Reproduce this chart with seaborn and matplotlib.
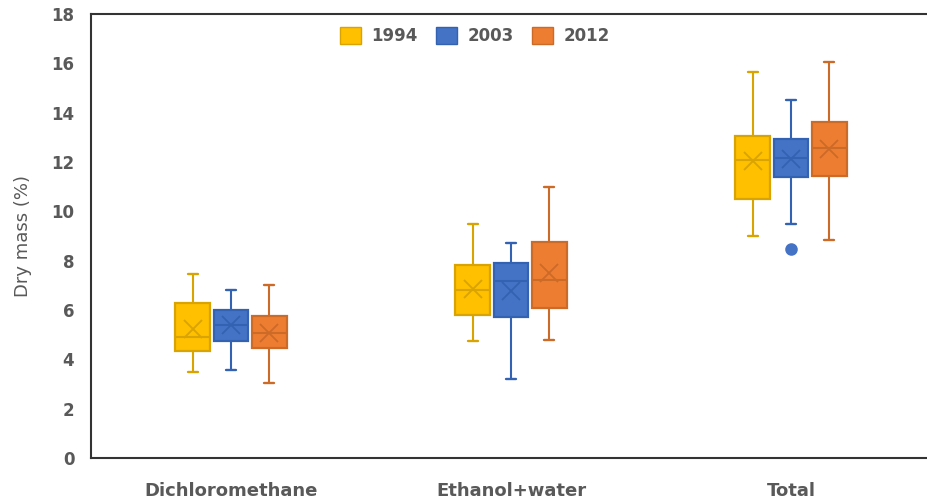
import numpy as np
import pandas as pd
import matplotlib
matplotlib.use("Agg")
import matplotlib.pyplot as plt
from matplotlib.patches import Patch
import seaborn as sns

categories = ["Dichloromethane", "Ethanol+water", "Total"]
years = ["1994", "2003", "2012"]

# Box statistics (per year, one value per category)
whisker_low = {"1994": [3.50, 4.75, 9.00], "2003": [3.55, 3.20, 9.50], "2012": [3.05, 4.80, 8.85]}
quart1 = {"1994": [4.35, 5.80, 10.50], "2003": [4.75, 5.70, 11.38], "2012": [4.45, 6.08, 11.43]}
median = {"1994": [4.92, 6.80, 12.10], "2003": [5.38, 7.17, 12.15], "2012": [5.08, 7.22, 12.55]}
quart3 = {"1994": [6.30, 7.82, 13.05], "2003": [6.02, 7.89, 12.95], "2012": [5.75, 8.75, 13.63]}
whisker_high = {"1994": [7.47, 9.50, 15.65], "2003": [6.80, 8.73, 14.50], "2012": [7.02, 10.97, 16.07]}
means = {"1994": [5.22, 6.84, 12.05], "2003": [5.38, 6.78, 12.12], "2012": [5.05, 7.49, 12.53]}

outlier_category = ["Total"]
outlier_year = ["2003"]
outlier_value = [8.47]

yticks = [0, 2, 4, 6, 8, 10, 12, 14, 16, 18]

fill_colors = {"1994": "#FFC000", "2003": "#4472C4", "2012": "#ED7D31"}
edge_colors = {"1994": "#D9A300", "2003": "#3462B2", "2012": "#CC6A28"}
text_color = "#595959"

# Long tables built from the arrays above
box_rows = []
for y in years:
    for i, c in enumerate(categories):
        for v in (whisker_low[y][i], quart1[y][i], median[y][i], quart3[y][i], whisker_high[y][i]):
            box_rows.append({"category": c, "year": y, "value": v})
box_df = pd.DataFrame(box_rows)

mean_df = pd.DataFrame([{"category": c, "year": y, "value": means[y][i]}
                        for y in years for i, c in enumerate(categories)])
out_df = pd.DataFrame({"category": outlier_category, "year": outlier_year, "value": outlier_value})

sns.set_style("white")
plt.rcParams["font.family"] = ["DejaVu Sans"]

fig = plt.figure(figsize=(9.27, 5.04), dpi=100)
ax = fig.add_axes([91 / 927, 46 / 504, 840 / 927, 444 / 504])

box_width = 0.41
sns.boxplot(data=box_df, x="category", y="value", hue="year",
            order=categories, hue_order=years, palette=fill_colors, saturation=1,
            width=box_width, gap=0.09, whis=(0, 100), showfliers=False,
            linewidth=1.5, legend=False, ax=ax)

for cont, y in zip(ax.containers, years):
    ec = edge_colors[y]
    for b in cont.boxes:
        b.set_edgecolor(ec)
        b.set_linewidth(1.6)
    for ln in list(cont.medians) + list(cont.whiskers):
        ln.set_color(ec)
        ln.set_linewidth(1.5)
    for ln in cont.caps:
        ln.set_color(ec)
        ln.set_linewidth(1.7)
        xd = np.asarray(ln.get_xdata(), dtype=float)
        mid = xd.mean()
        ln.set_xdata(mid + (xd - mid) * 0.55)

dodge_amt = 2 * box_width / 3
sns.pointplot(data=mean_df, x="category", y="value", hue="year",
              order=categories, hue_order=years, palette=edge_colors,
              dodge=dodge_amt, markers="x", linestyles="none", errorbar=None,
              markersize=13, markeredgewidth=1.3, legend=False, zorder=6, ax=ax)

sns.pointplot(data=out_df, x="category", y="value", hue="year",
              order=categories, hue_order=years, palette=fill_colors,
              dodge=dodge_amt, markers="o", linestyles="none", errorbar=None,
              markersize=7, legend=False, zorder=6, ax=ax)

ax.set_xlim(-0.5, 2.5)
ax.set_ylim(0, 18)
ax.set_yticks(yticks)
ax.set_yticklabels([str(t) for t in yticks], fontsize=12, fontweight="bold", color=text_color)
ax.set_xticks(range(len(categories)))
ax.set_xticklabels(categories, fontsize=13, fontweight="bold", color=text_color)
ax.tick_params(axis="x", length=0, pad=17)
ax.tick_params(axis="y", length=4, width=1, color="#c0c0c0", pad=8)
ax.set_xlabel("")
ax.set_ylabel("Dry mass (%)", fontsize=13, color=text_color, labelpad=14)

for side in ["left", "bottom", "top"]:
    ax.spines[side].set_visible(True)
    ax.spines[side].set_color("#333333")
    ax.spines[side].set_linewidth(1.5)
ax.spines["right"].set_visible(False)

handles = [Patch(facecolor=fill_colors[y], edgecolor=edge_colors[y], linewidth=1.0) for y in years]
leg = ax.legend(handles, years, loc="center", bbox_to_anchor=(475 / 927, 1 - 36 / 504),
                bbox_transform=fig.transFigure, ncol=3, frameon=False,
                handlelength=1.25, handleheight=1.25, handletextpad=0.65,
                columnspacing=1.1, prop={"size": 12, "weight": "bold"})
for t in leg.get_texts():
    t.set_color(text_color)

fig.savefig("out.png", dpi=100)
